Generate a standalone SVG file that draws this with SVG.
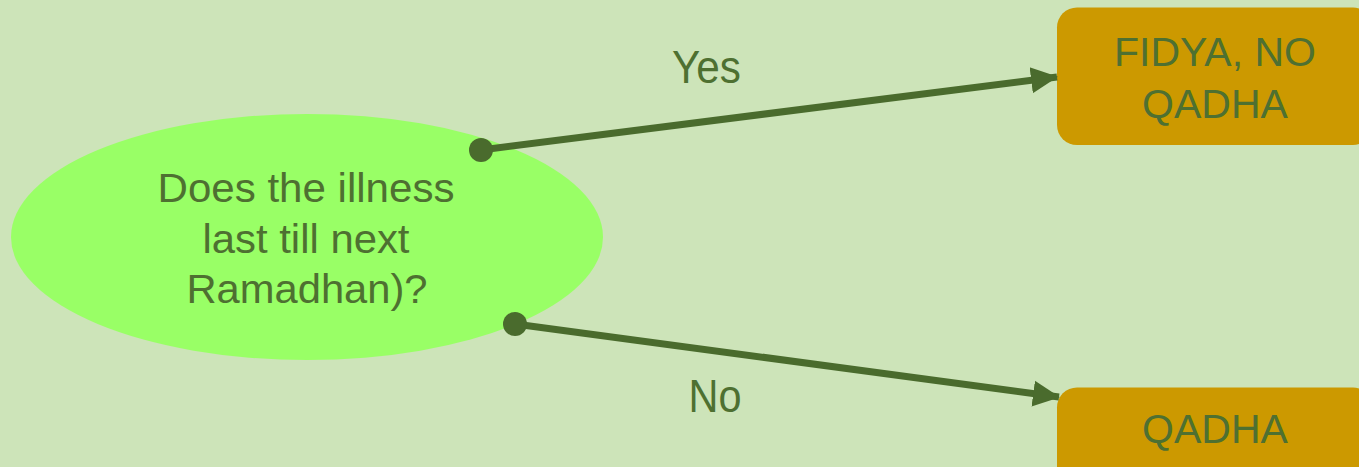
<svg xmlns="http://www.w3.org/2000/svg" width="1359" height="467" viewBox="0 0 1359 467">
<style>
.t{font-family:"Liberation Sans",Arial,sans-serif;fill:#4E7031;text-anchor:middle}
.c{stroke:#4A6B2D;stroke-width:7;fill:none}
.box{fill:#CC9900}
</style>
<defs>
<marker id="ah" markerUnits="userSpaceOnUse" markerWidth="28" markerHeight="28" viewBox="0 0 28 28" refX="26" refY="14" orient="auto">
<path d="M0,1 L27,14 L0,27 Z" fill="#4A6B2D"/>
</marker>
</defs>
<rect width="1359" height="467" fill="#CDE4B9"/>
<g id="node-question">
<ellipse cx="307" cy="237" rx="296" ry="123" fill="#99FF66"/>
<text class="t" font-size="41" x="306" y="202" textLength="297" lengthAdjust="spacingAndGlyphs">Does the illness</text>
<text class="t" font-size="41" x="306" y="253" textLength="207" lengthAdjust="spacingAndGlyphs">last till next</text>
<text class="t" font-size="41" x="307" y="303" textLength="241" lengthAdjust="spacingAndGlyphs">Ramadhan)?</text>
</g>
<g id="node-fidya">
<rect class="box" x="1057" y="7.5" width="316" height="137.5" rx="20"/>
<text class="t" font-size="41" x="1215" y="66">FIDYA, NO</text>
<text class="t" font-size="41" x="1215" y="118">QADHA</text>
</g>
<g id="node-qadha">
<rect class="box" x="1057" y="387.5" width="316" height="137.5" rx="20"/>
<text class="t" font-size="41" x="1215" y="443">QADHA</text>
</g>
<g id="connectors">
<line class="c" x1="481" y1="150" x2="1057" y2="77" marker-end="url(#ah)"/>
<circle cx="481" cy="150" r="12" fill="#4A6B2D"/>
<text class="t" font-size="46" x="706.5" y="83" textLength="69" lengthAdjust="spacingAndGlyphs">Yes</text>
<line class="c" x1="515" y1="324" x2="1059" y2="397" marker-end="url(#ah)"/>
<circle cx="515" cy="324" r="12" fill="#4A6B2D"/>
<text class="t" font-size="47" x="715" y="412" textLength="53" lengthAdjust="spacingAndGlyphs">No</text>
</g>
</svg>
